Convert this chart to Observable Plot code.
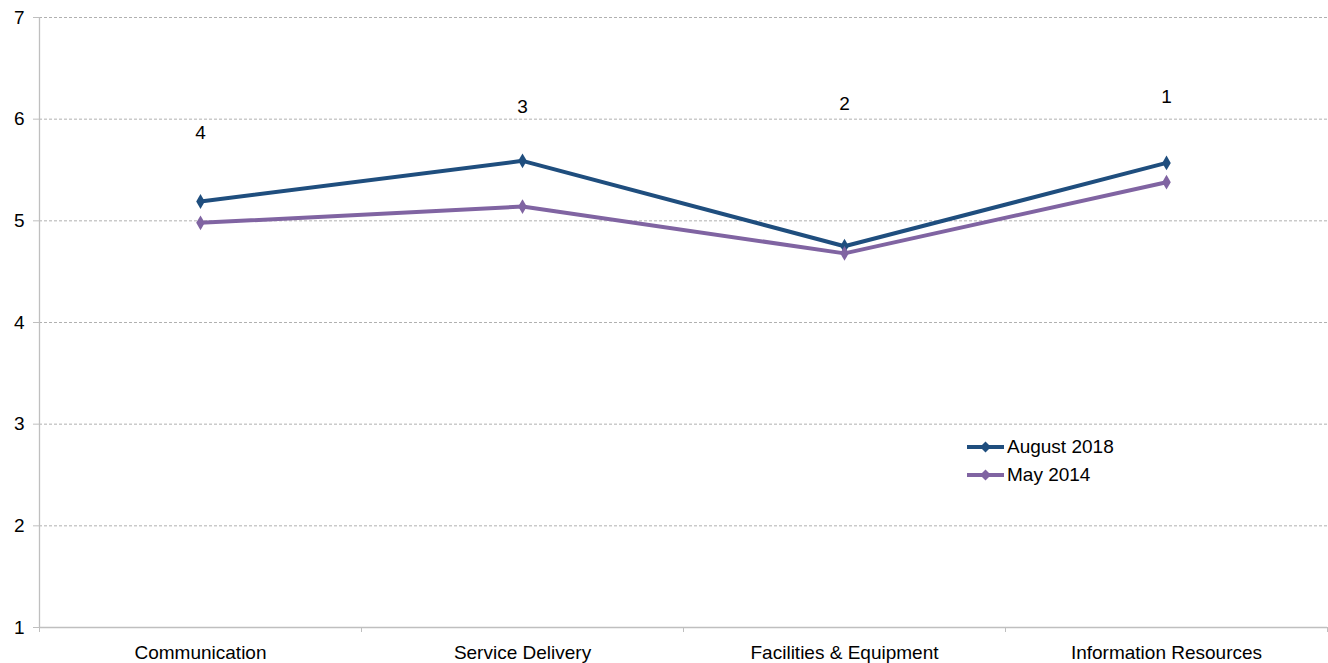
<!DOCTYPE html>
<html>
<head>
<meta charset="utf-8">
<script src="https://cdn.jsdelivr.net/npm/d3@7"></script>
<script src="https://cdn.jsdelivr.net/npm/@observablehq/plot@0.6"></script>
<style>
  html, body { margin: 0; padding: 0; background: #fff; }
  #wrap { position: relative; width: 1328px; height: 663px; font-family: "Liberation Sans", Arial, sans-serif; }
  #legend { position: absolute; left: 966px; top: 433px; font-size: 19px; color: #000; line-height: 28px; }
  #legend div { display: flex; align-items: center; }
  #legend svg { margin-right: 1px; }
</style>
</head>
<body>
<div id="wrap"></div>
<script>
const categories = ["Communication", "Service Delivery", "Facilities & Equipment", "Information Resources"];
const seriesNames = ["August 2018", "May 2014"];
const august2018 = [5.19, 5.59, 4.75, 5.57];
const may2014 = [4.98, 5.14, 4.68, 5.38];
const rankLabels = ["4", "3", "2", "1"];
const rankLabelValues = [5.86, 6.12, 6.15, 6.22];
const yTicks = [1, 2, 3, 4, 5, 6, 7];
const colors = ["#1F4E7E", "#8064A2"];

const data = [];
[august2018, may2014].forEach((vals, s) => {
  vals.forEach((v, i) => data.push({series: seriesNames[s], cat: i + 0.5, value: v}));
});
const labels = rankLabels.map((t, i) => ({cat: i + 0.5, value: rankLabelValues[i], text: t}));

const plot = Plot.plot({
  width: 1328,
  height: 663,
  marginLeft: 39,
  marginRight: 1,
  marginTop: 17,
  marginBottom: 36,
  style: {fontFamily: "'Liberation Sans', Arial, sans-serif", background: "#fff"},
  x: {type: "linear", domain: [0, categories.length], label: null},
  y: {domain: [1, 7], label: null},
  color: {domain: seriesNames, range: colors},
  marks: [
    Plot.gridY(yTicks.filter(d => d > 1), {stroke: "#b0b0b0", strokeOpacity: 1, strokeDasharray: "3,2", strokeWidth: 1}),
    Plot.ruleY([1], {stroke: "#bfbfbf", strokeWidth: 1.3}),
    Plot.ruleX([0], {stroke: "#bfbfbf", strokeWidth: 1.3}),
    Plot.axisY({ticks: yTicks, tickSize: 6, tickPadding: 9, fontSize: 19, stroke: "#bfbfbf", color: "#000", tickFormat: d => d, label: null}),
    Plot.axisX({ticks: d3.range(0, categories.length + 1), tickSize: 5, tickFormat: () => "", stroke: "#bfbfbf", label: null}),
    Plot.axisX({ticks: categories.map((c, i) => i + 0.5), tickSize: 0, tickPadding: 18, fontSize: 19, color: "#000", tickFormat: d => categories[Math.floor(d)], label: null}),
    Plot.line(data, {x: "cat", y: "value", z: "series", stroke: "series", strokeWidth: 4}),
    Plot.dot(data, {x: "cat", y: "value", fill: "series", symbol: "diamond", r: 4.5}),
    Plot.text(labels, {x: "cat", y: "value", text: "text", fontSize: 19, fill: "#000"})
  ]
});

const wrap = document.getElementById("wrap");
wrap.appendChild(plot);

const legend = document.createElement("div");
legend.id = "legend";
seriesNames.forEach((name, i) => {
  const row = document.createElement("div");
  row.innerHTML = `<svg width="40" height="12"><line x1="1" y1="6" x2="38" y2="6" stroke="${colors[i]}" stroke-width="4"/><path d="M19.5,0.5 L25,6 L19.5,11.5 L14,6 Z" fill="${colors[i]}"/></svg><span>${name}</span>`;
  legend.appendChild(row);
});
wrap.appendChild(legend);
</script>
</body>
</html>
